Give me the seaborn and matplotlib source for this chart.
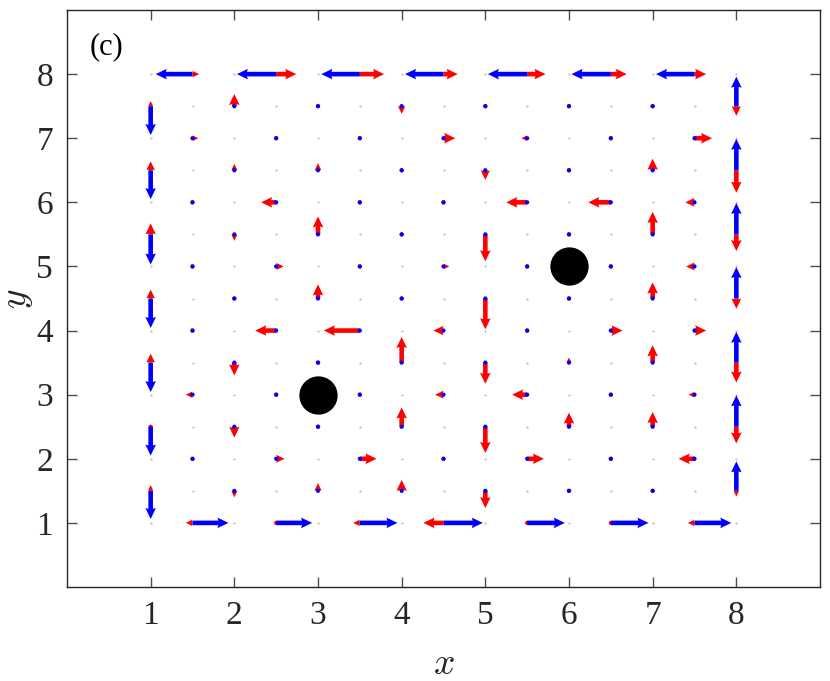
import numpy as np
import pandas as pd
import matplotlib
matplotlib.use('Agg')
import matplotlib.pyplot as plt
import seaborn as sns

# lattice edges: horizontal edges sit at (x+0.5, y), vertical edges at (x, y+0.5)
H_X = [1.5, 2.5, 3.5, 4.5, 5.5, 6.5, 7.5]
H_Y = [8, 7, 6, 5, 4, 3, 2, 1]            # rows listed top to bottom
V_X = [1, 2, 3, 4, 5, 6, 7, 8]
V_Y = [7.5, 6.5, 5.5, 4.5, 3.5, 2.5, 1.5]  # rows listed top to bottom

# horizontal components (u) on horizontal edges
H_RED = [
    [0.08, 0.24, 0.29, 0.17, 0.22, 0.19, 0.14],
    [0.07, -0.03, 0.05, 0.14, -0.07, -0.02, 0.21],
    [0.04, -0.18, 0.02, 0.03, -0.25, -0.27, -0.11],
    [-0.02, 0.09, 0.00, 0.07, 0.00, 0.00, -0.10],
    [-0.02, -0.25, -0.43, -0.12, 0.05, 0.14, 0.14],
    [-0.08, 0.00, 0.00, -0.10, -0.18, -0.02, -0.07],
    [0.01, 0.10, 0.20, 0.05, 0.20, -0.03, -0.19],
    [-0.08, 0.00, -0.08, -0.24, 0.00, 0.00, -0.08],
]
H_BLUE = [
    [-0.44, -0.47, -0.46, -0.46, -0.47, -0.47, -0.46],
    [0.00, 0.00, 0.00, 0.00, 0.00, 0.00, 0.00],
    [0.00, 0.00, 0.00, 0.00, 0.00, 0.00, 0.00],
    [0.00, 0.00, 0.00, 0.00, 0.00, 0.00, 0.00],
    [0.00, 0.00, 0.00, 0.00, 0.00, 0.00, 0.00],
    [0.00, 0.00, 0.00, 0.00, 0.00, 0.00, 0.00],
    [0.00, 0.00, 0.00, 0.00, 0.00, 0.00, 0.00],
    [0.43, 0.43, 0.45, 0.47, 0.45, 0.45, 0.44],
]

# vertical components (v) on vertical edges
V_RED = [
    [0.08, 0.19, 0.04, -0.12, 0.06, -0.04, -0.06, -0.15],
    [0.14, 0.10, 0.11, 0.02, -0.15, 0.02, 0.18, -0.35],
    [0.17, -0.10, 0.28, 0.03, -0.42, 0.00, 0.35, -0.26],
    [0.14, 0.02, 0.22, 0.07, -0.48, 0.00, 0.25, -0.16],
    [0.14, -0.20, 0.00, 0.40, -0.33, 0.08, 0.27, -0.31],
    [0.07, -0.17, 0.00, 0.30, -0.41, 0.22, 0.23, -0.26],
    [0.09, -0.10, 0.12, 0.17, -0.27, 0.00, 0.07, -0.09],
]
V_BLUE = [
    [-0.45, 0.00, 0.00, 0.00, 0.00, 0.00, 0.00, 0.46],
    [-0.45, 0.00, 0.00, 0.00, 0.00, 0.00, 0.00, 0.49],
    [-0.47, 0.00, 0.00, 0.00, 0.00, 0.00, 0.00, 0.49],
    [-0.46, 0.00, 0.00, 0.00, 0.00, 0.00, 0.00, 0.49],
    [-0.46, 0.00, 0.00, 0.00, 0.00, 0.00, 0.00, 0.48],
    [-0.45, 0.00, 0.00, 0.00, 0.00, 0.00, 0.00, 0.49],
    [-0.44, 0.00, 0.00, 0.00, 0.00, 0.00, 0.00, 0.46],
]

# obstacles
DISK_X = [3, 6]
DISK_Y = [3, 5]

TICKS = [1, 2, 3, 4, 5, 6, 7, 8]
PANEL = '(c)'


def edge_table():
    rows = []
    for j, y in enumerate(H_Y):
        for i, x in enumerate(H_X):
            rows.append((x, y, H_RED[j][i], 0.0, H_BLUE[j][i], 0.0))
    for j, y in enumerate(V_Y):
        for i, x in enumerate(V_X):
            rows.append((x, y, 0.0, V_RED[j][i], 0.0, V_BLUE[j][i]))
    return pd.DataFrame(rows, columns=['x', 'y', 'ur', 'vr', 'ub', 'vb'])


def main():
    sns.set_style('ticks')
    plt.rcParams['font.family'] = ['Liberation Serif', 'DejaVu Serif']
    plt.rcParams['mathtext.fontset'] = 'cm'

    df = edge_table()

    # background dots on nodes and plaquette centres
    nodes = [(x, y) for x in TICKS for y in TICKS]
    plaq = [(x + 0.5, y + 0.5) for x in TICKS[:-1] for y in TICKS[:-1]]
    dots = pd.DataFrame(nodes + plaq, columns=['x', 'y'])

    fig = plt.figure(figsize=(8.3, 6.81), dpi=100)
    ax = fig.add_axes([67 / 830, 94 / 681, 753 / 830, 577 / 681])

    sns.scatterplot(data=dots, x='x', y='y', ax=ax, s=3, color='#c8c8c8',
                    linewidth=0, zorder=1, legend=False)

    qkw = dict(angles='xy', scale_units='xy', scale=1, units='dots',
               width=4.6, headwidth=2.3, headlength=2.4, headaxislength=2.2,
               minlength=1.0)
    ax.quiver(df['x'], df['y'], df['ur'], df['vr'], color='#ff0000',
              zorder=2, **qkw)
    ax.quiver(df['x'], df['y'], df['ub'], df['vb'], color='#0000ff',
              zorder=3, **qkw)

    sns.scatterplot(x=DISK_X, y=DISK_Y, ax=ax, s=760, color='black',
                    linewidth=0, zorder=4, legend=False)

    ax.set_xlim(0, 9)
    ax.set_ylim(0, 9)
    ax.set_xticks(TICKS)
    ax.set_yticks(TICKS)
    ax.tick_params(direction='in', top=True, right=True, length=7, width=1,
                   color='#4d4d4d', labelsize=24, labelcolor='#262626', pad=10)
    for s in ax.spines.values():
        s.set_visible(True)
        s.set_color('#262626')
        s.set_linewidth(1.0)

    ax.set_xlabel(r'$x$', fontsize=27, color='#262626')
    ax.set_ylabel(r'$y$', fontsize=27, color='#262626')
    ax.xaxis.set_label_coords(0.5, -0.105)
    ax.yaxis.set_label_coords(-0.042, 0.5)

    ax.text(0.27, 8.42, PANEL, fontsize=22, color='black', va='center', ha='left')

    fig.savefig('out.png', dpi=100)
    plt.close(fig)


if __name__ == '__main__':
    main()
